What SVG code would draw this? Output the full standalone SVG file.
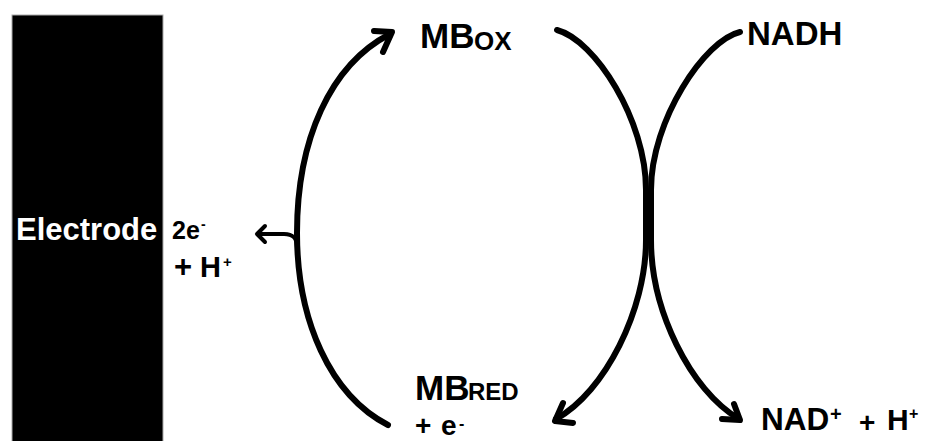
<svg xmlns="http://www.w3.org/2000/svg" width="925" height="441" viewBox="0 0 925 441">
<style>
  .t { font-family: "Liberation Sans", Arial, sans-serif; font-weight: bold; fill: #000; }
  .w { fill: #fff; }
  .c { fill: none; stroke: #000; stroke-width: 6; stroke-linecap: round; stroke-linejoin: round; }
  .thin { fill: none; stroke: #000; stroke-width: 4; stroke-linecap: round; stroke-linejoin: round; }
</style>
<rect width="925" height="441" fill="#fff"/>
<g id="electrode">
  <rect x="12" y="15" width="151" height="440" fill="#000" stroke="#aaa" stroke-width="1"/>
  <text class="t w" x="16" y="240" font-size="31">Electrode</text>
</g>
<g id="electrons">
  <text class="t" x="172" y="239" font-size="25">2e</text>
  <text class="t" x="201" y="229" font-size="14">-</text>
  <text class="t" x="174" y="277" font-size="31">+</text>
  <text class="t" x="200" y="277" font-size="29">H</text>
  <text class="t" x="223" y="267" font-size="15">+</text>
</g>
<g id="mbox">
  <text class="t" x="420" y="48" font-size="35">MB</text>
  <text class="t" x="474" y="50" font-size="26">OX</text>
</g>
<g id="mbred">
  <text class="t" x="415" y="400" font-size="35">MB</text>
  <text class="t" x="468" y="400" font-size="24">RED</text>
  <text class="t" x="415" y="435" font-size="28">+</text>
  <text class="t" x="441" y="435" font-size="28">e</text>
  <text class="t" x="459" y="429" font-size="16">-</text>
</g>
<g id="nadh">
  <text class="t" x="747" y="45" font-size="33">NADH</text>
</g>
<g id="nadplus">
  <text class="t" x="761" y="430" font-size="31.5">NAD</text>
  <text class="t" x="830" y="421" font-size="20">+</text>
  <text class="t" x="859" y="432" font-size="28">+</text>
  <text class="t" x="887" y="430" font-size="30">H</text>
  <text class="t" x="909" y="419" font-size="16">+</text>
</g>
<g id="connectors">
  <path class="c" d="M388,425 C330,395 297,320 297,233 C297,140 330,65 390,34"/>
  <path class="c" d="M374,31 L392,32 L383,52"/>
  <path class="thin" d="M297,248 C297,238 293,234 284,234 L258,234"/>
  <path class="thin" d="M265,226 L257,234 L265,242"/>
  <path class="c" d="M557,30 C595,40 646,120 646,190 L646,240 C646,310 605,392 556,419"/>
  <path class="c" d="M563,403 L555,421 L573,423"/>
  <path class="c" d="M740,32 C705,40 651,120 651,190 L651,240 C651,310 690,390 739,419"/>
  <path class="c" d="M722,419 L740,420 L734,404"/>
</g>
</svg>
